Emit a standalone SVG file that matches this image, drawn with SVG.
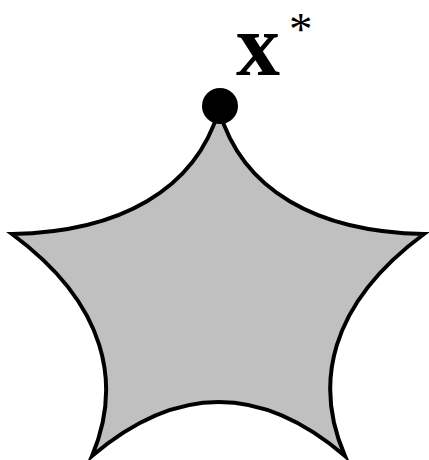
<svg xmlns="http://www.w3.org/2000/svg" width="429" height="460" viewBox="0 0 429 460">
<style>
.star{fill:#c0c0c0;stroke:#000;stroke-width:4;stroke-linejoin:miter;stroke-miterlimit:10}
.lbl{font-family:"Liberation Serif",serif;fill:#000}
</style>
<rect width="429" height="460" fill="#fff"/>
<g id="star">
<path class="star" d="M219,110 C195,190 120,232 12,234 C108,305 122,385 92,456 Q219,348 345,456 C314,385 328,305 424,234 C316,232 242,190 219,110 Z"/>
</g>
<g id="point">
<circle cx="220" cy="106" r="18" fill="#000"/>
<text class="lbl" x="236" y="75" font-size="88" font-weight="bold">x</text>
<text class="lbl" x="289" y="45" font-size="47">*</text>
</g>
</svg>
